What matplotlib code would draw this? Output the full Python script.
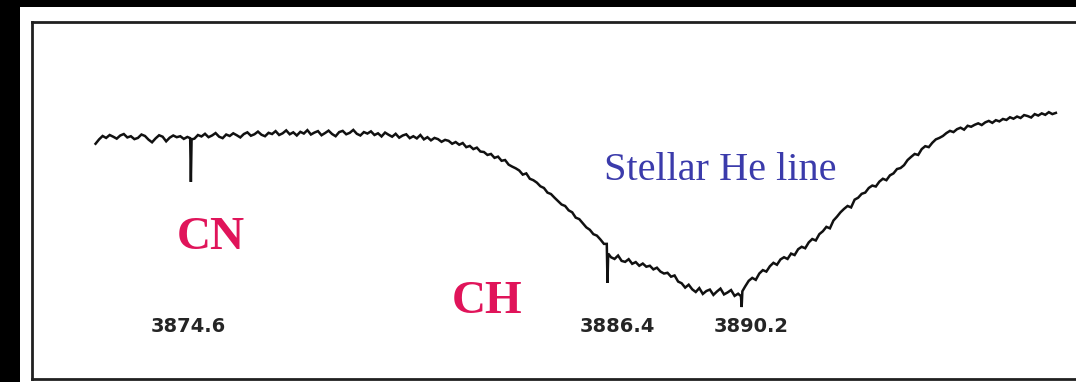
import numpy as np
import matplotlib
matplotlib.use("Agg")
import matplotlib.pyplot as plt
from matplotlib.patches import Rectangle

# spectrum: 0.1 A steps from 3871.9 to 3899.1, relative flux
wl_start, wl_end = 3871.9, 3899.1
flux = [
    0.972, 0.990, 1.004, 0.996, 1.008, 1.001, 0.993, 1.006, 1.012, 0.998,
    1.003, 0.991, 0.996, 1.010, 1.004, 0.989, 0.978, 0.994, 1.007, 1.001,
    0.982, 0.997, 1.006, 0.999, 1.003, 0.992, 1.000, 0.815, 0.993, 1.008,
    1.002, 1.013, 0.999, 1.006, 1.016, 1.001, 0.995, 1.010, 1.004, 1.015,
    1.007, 0.998, 1.012, 1.019, 1.005, 1.011, 1.022, 1.009, 1.003, 1.017,
    1.012, 1.024, 1.008, 1.015, 1.027, 1.011, 1.019, 1.006, 1.021, 1.014,
    1.028, 1.010, 1.018, 1.024, 1.007, 1.016, 1.026, 1.012, 1.003, 1.020,
    1.025, 1.011, 1.017, 1.029, 1.013, 1.006, 1.020, 1.014, 1.023, 1.008,
    1.015, 1.002, 1.018, 1.009, 1.001, 1.013, 0.997, 1.006, 1.011, 0.995,
    1.003, 0.994, 1.008, 0.990, 0.999, 0.986, 0.996, 0.991, 0.980, 0.988,
    0.984, 0.972, 0.979, 0.968, 0.975, 0.958, 0.963, 0.950, 0.956, 0.940,
    0.938, 0.926, 0.930, 0.914, 0.919, 0.902, 0.905, 0.886, 0.878, 0.871,
    0.862, 0.845, 0.850, 0.828, 0.822, 0.812, 0.797, 0.790, 0.771, 0.765,
    0.750, 0.736, 0.722, 0.716, 0.698, 0.690, 0.668, 0.662, 0.645, 0.628,
    0.618, 0.600, 0.594, 0.578, 0.560, 0.400, 0.505, 0.498, 0.512, 0.490,
    0.486, 0.497, 0.478, 0.485, 0.470, 0.479, 0.466, 0.470, 0.455, 0.462,
    0.446, 0.438, 0.441, 0.425, 0.430, 0.405, 0.398, 0.380, 0.392, 0.373,
    0.362, 0.378, 0.354, 0.366, 0.372, 0.350, 0.364, 0.376, 0.352, 0.360,
    0.370, 0.346, 0.355, 0.300, 0.385, 0.408, 0.420, 0.412, 0.438, 0.452,
    0.446, 0.468, 0.482, 0.474, 0.496, 0.505, 0.498, 0.520, 0.514, 0.538,
    0.548, 0.542, 0.566, 0.580, 0.574, 0.600, 0.612, 0.630, 0.624, 0.656,
    0.672, 0.690, 0.704, 0.716, 0.710, 0.742, 0.750, 0.766, 0.771, 0.790,
    0.800, 0.796, 0.816, 0.828, 0.822, 0.842, 0.850, 0.868, 0.872, 0.884,
    0.905, 0.918, 0.930, 0.926, 0.950, 0.962, 0.958, 0.976, 0.990, 0.996,
    1.004, 1.016, 1.025, 1.020, 1.032, 1.038, 1.030, 1.046, 1.042, 1.050,
    1.056, 1.049, 1.060, 1.066, 1.058, 1.069, 1.064, 1.074, 1.070, 1.081,
    1.075, 1.084, 1.078, 1.090, 1.086, 1.080, 1.094, 1.088, 1.097, 1.091,
    1.102, 1.094, 1.099,
]
# extra samples on the flanks of the three narrow absorption lines
dip_wl = [3874.58, 3874.62, 3886.38, 3886.42, 3890.18, 3890.22]
dip_flux = [0.995, 0.990, 0.560, 0.520, 0.345, 0.365]

# marked lines and labels
line_labels = ["3874.6", "3886.4", "3890.2"]
label_wl = [3874.52, 3886.67, 3890.46]
label_flux = 0.222

species = ["CN", "CH"]
species_wl = [3875.17, 3882.99]
species_flux = [0.584, 0.321]

wl = np.concatenate([np.linspace(wl_start, wl_end, len(flux)), dip_wl])
fl = np.concatenate([flux, dip_flux])
order = np.argsort(wl)
wl, fl = wl[order], fl[order]

fig = plt.figure(figsize=(10.76, 3.82), dpi=100)
fig.patch.set_facecolor("black")
# the white paper of the scan
fig.patches.append(Rectangle((20 / 1076, 0), 1, (382 - 7) / 382,
                             transform=fig.transFigure, facecolor="white",
                             edgecolor="none", zorder=-10))

ax = fig.add_axes([32 / 1076, 3 / 382, 1 - 32 / 1076, (382 - 22 - 3) / 382])
ax.set_zorder(5)
ax.set_facecolor("white")
ax.plot(wl, fl, color="#111111", lw=1.8, solid_joinstyle="miter")

ax.set_xlim(3870.10, 3899.67)
ax.set_ylim(0.004, 1.473)
ax.set_xticks([])
ax.set_yticks([])
for s in ["left", "top", "bottom"]:
    ax.spines[s].set_linewidth(2.0)
    ax.spines[s].set_color("#202020")
ax.spines["right"].set_visible(False)

for txt, x in zip(line_labels, label_wl):
    ax.text(x, label_flux, txt, ha="center", va="center", fontsize=14,
            family="DejaVu Sans", fontweight="bold", color="#252525")

for name, x, y in zip(species, species_wl, species_flux):
    ax.text(x, y, name, ha="center", va="center", fontsize=34,
            family="Liberation Serif", fontweight="bold", color="#e0145a")

ax.text(3889.59, 0.864, "Stellar He line", ha="center", va="center",
        fontsize=29, family="Liberation Serif", color="#3b3bab")

fig.savefig("out.png", dpi=100, facecolor=fig.get_facecolor())
